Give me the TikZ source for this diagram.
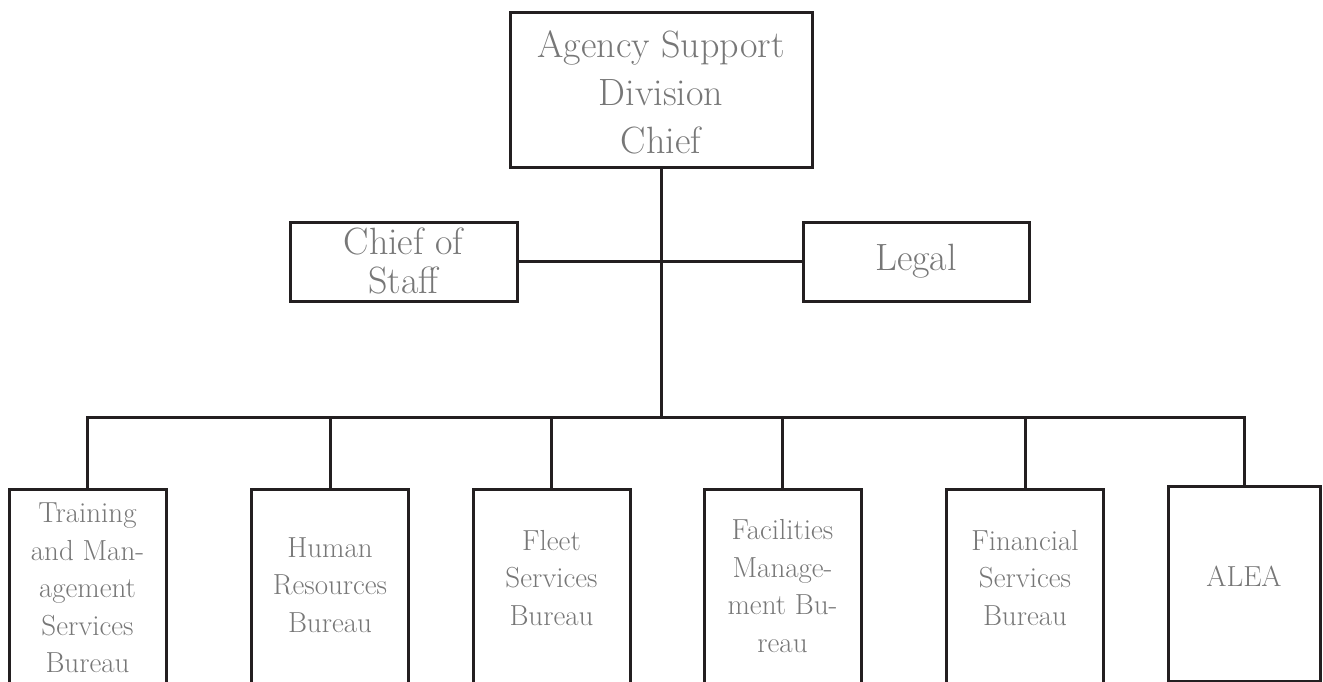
\documentclass[tikz,border=0pt]{standalone}
\usetikzlibrary{positioning}
\definecolor{linec}{HTML}{231F20}
\definecolor{txtc}{HTML}{777777}
\begin{document}
\begin{tikzpicture}[x=1pt,y=-1pt,
  box/.style={draw=linec, line width=3pt, fill=none, inner sep=0pt, rectangle},
  conn/.style={draw=linec, line width=3pt},
  bigtxt/.style={text=txtc, align=center, inner sep=0pt, font=\fontsize{38}{48}\selectfont},
  midtxt/.style={text=txtc, align=center, inner sep=0pt, font=\fontsize{38}{39}\selectfont},
  smalltxt/.style={text=txtc, align=center, inner sep=0pt, font=\fontsize{29}{37.5}\selectfont},
  lowbox/.style={box, anchor=north, minimum width=157pt, minimum height=240pt}]
\useasboundingbox (0,0) rectangle (1323,682);
\clip (0,0) rectangle (1323,682);
% top
\node[box, minimum width=302pt, minimum height=155pt] (top) at (661,90.5) {};
\node[bigtxt] (toptxt) at (661,92) {Agency Support\\Division\\Chief};
\node[box, minimum width=227pt, minimum height=79pt] (cos) at (403.5,261.5) {};
\node[midtxt] (costxt) at (403.5,261) {Chief of\\Staff};
\node[box, minimum width=226pt, minimum height=79pt] (legal) at (916,261.5) {};
\node[midtxt] (legaltxt) at (916,261) {Legal};
% bottom boxes
\node[lowbox] (b1) at (87.5,488) {};
\node[lowbox] (b2) at (330,488) {};
\node[lowbox] (b3) at (551.5,488) {};
\node[lowbox] (b4) at (782.5,488) {};
\node[lowbox] (b5) at (1025,488) {};
\node[box, anchor=north, minimum width=152pt, minimum height=195pt] (b6) at (1244,485) {};
\node[smalltxt] (t1) at (87.5,588) {Training\\and Man-\\agement\\Services\\Bureau};
\node[smalltxt] (t2) at (330,585) {Human\\Resources\\Bureau};
\node[smalltxt] (t3) at (551.5,578) {Fleet\\Services\\Bureau};
\node[smalltxt] (t4) at (782.5,586) {Facilities\\Manage-\\ment Bu-\\reau};
\node[smalltxt] (t5) at (1025,578) {Financial\\Services\\Bureau};
\node[smalltxt] (t6) at (1244,576) {ALEA};
% connectors
\coordinate (bus) at (661,417);
\draw[conn] (top.south) -- (bus);
\draw[conn] (cos.east) -- (cos.east -| top.south);
\draw[conn] (legal.west) -- (legal.west -| top.south);
\draw[conn, line cap=rect] (b1.north |- bus) -- (b6.north |- bus);
\foreach \b in {b1,b2,b3,b4,b5,b6}{
  \draw[conn] (\b.north |- bus) -- (\b.north);
}
\end{tikzpicture}
\end{document}
